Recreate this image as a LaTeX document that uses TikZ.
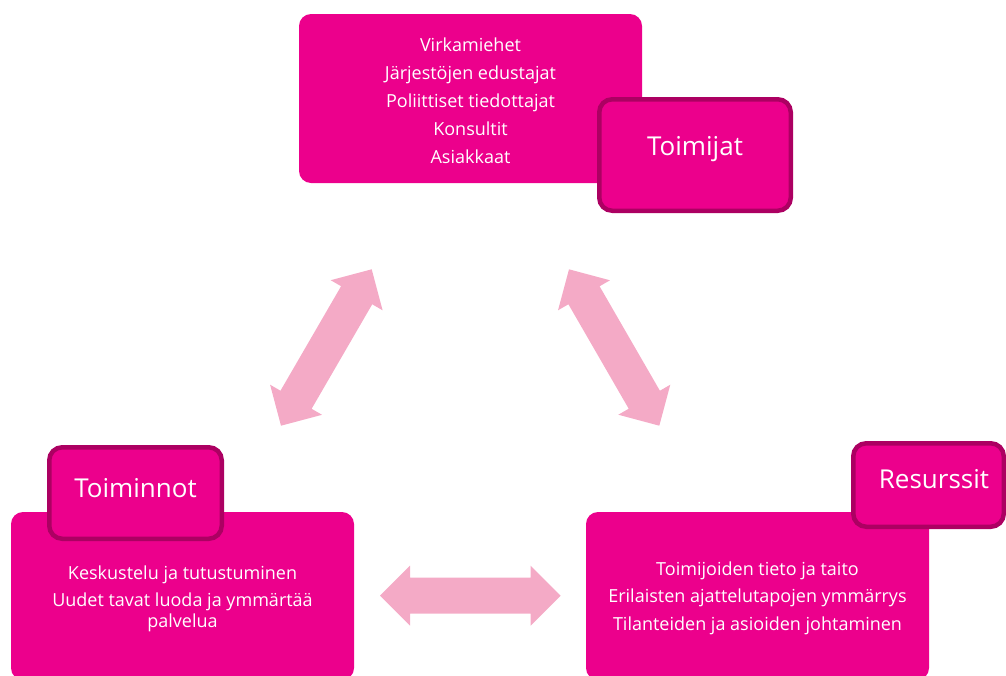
\documentclass[tikz,border=0pt]{standalone}
\usepackage{fontspec}
\setmainfont{Open Sans}
\usetikzlibrary{calc}

\definecolor{magentafill}{RGB}{236,0,140}
\definecolor{magentaedge}{RGB}{172,0,98}
\definecolor{arrowpink}{RGB}{244,170,198}

% block double arrow between two named points: shaft 36pt, head 60pt wide, 30pt long
\newcommand\bidiarrow[2]{%
  \coordinate (ba-a) at ($(#1)!30pt!(#2)$);
  \coordinate (ba-b) at ($(#2)!30pt!(#1)$);
  \fill[arrowpink] (#1)
    -- ($(ba-a)!30pt!90:(#1)$) -- ($(ba-a)!18pt!90:(#1)$)
    -- ($(ba-b)!18pt!-90:(#2)$) -- ($(ba-b)!30pt!-90:(#2)$)
    -- (#2)
    -- ($(ba-b)!30pt!90:(#2)$) -- ($(ba-b)!18pt!90:(#2)$)
    -- ($(ba-a)!18pt!-90:(#1)$) -- ($(ba-a)!30pt!-90:(#1)$)
    -- cycle;}

\begin{document}
\begin{tikzpicture}[x=1pt,y=-1pt,
  mainbox/.style={fill=magentafill, draw=none, rounded corners=12pt,
    minimum width=343pt, minimum height=168pt, inner sep=0pt, outer sep=0pt},
  tagbox/.style={fill=magentafill, draw=magentaedge, line width=4.5pt,
    rounded corners=13pt, inner sep=0pt, outer sep=0pt},
  bodytext/.style={text=white, align=center, inner sep=0pt,
    font=\fontsize{18}{21}\selectfont},
  tagtext/.style={text=white, inner sep=0pt, font=\fontsize{26}{30}\selectfont},
  ]
\useasboundingbox (0,0) rectangle (1006,675);

% connectors between the three areas
\coordinate (actors-left)  at (371.7,269.3);
\coordinate (actions-up)   at (281,425.7);
\coordinate (actors-right) at (569,269.3);
\coordinate (res-up)       at (659.3,425.7);
\coordinate (actions-right) at (380,595.7);
\coordinate (res-left)     at (560.7,595.7);
\bidiarrow{actors-left}{actions-up}
\bidiarrow{actors-right}{res-up}
\bidiarrow{actions-right}{res-left}

% content boxes
\node[mainbox, minimum height=169pt] (actors)  at (470.5,98.5) {};
\node[mainbox] (actions)   at (182.5,596) {};
\node[mainbox] (resources) at (757.5,596) {};

\node[bodytext] (actors-list) at ($(actors.center)+(0,2)$)
  {Virkamiehet\\[7pt]Järjestöjen edustajat\\[7pt]Poliittiset tiedottajat\\[7pt]Konsultit\\[7pt]Asiakkaat};
\node[bodytext] (actions-list) at ($(actions.center)+(0,2.5)$)
  {Keskustelu ja tutustuminen\\[6pt]Uudet tavat luoda ja ymmärtää\\palvelua};
\node[bodytext] (resources-list) at ($(resources.center)+(0,2)$)
  {Toimijoiden tieto ja taito\\[6.5pt]Erilaisten ajattelutapojen ymmärrys\\[6.5pt]Tilanteiden ja asioiden johtaminen};

% title tags
\node[tagbox, minimum width=191.5pt, minimum height=111.5pt] (actors-tag)  at (695,155) {};
\node[tagbox, minimum width=172.5pt, minimum height=91.5pt]  (actions-tag) at (135.5,493) {};
\node[tagbox, minimum width=150.5pt, minimum height=83.5pt]  (res-tag)     at (928.5,485) {};

\node[tagtext] (actors-title)  at (695,149) {Toimijat};
\node[tagtext] (actions-title) at (135.5,488) {Toiminnot};
\node[tagtext] (res-title)     at (934,479) {Resurssit};
\end{tikzpicture}
\end{document}
